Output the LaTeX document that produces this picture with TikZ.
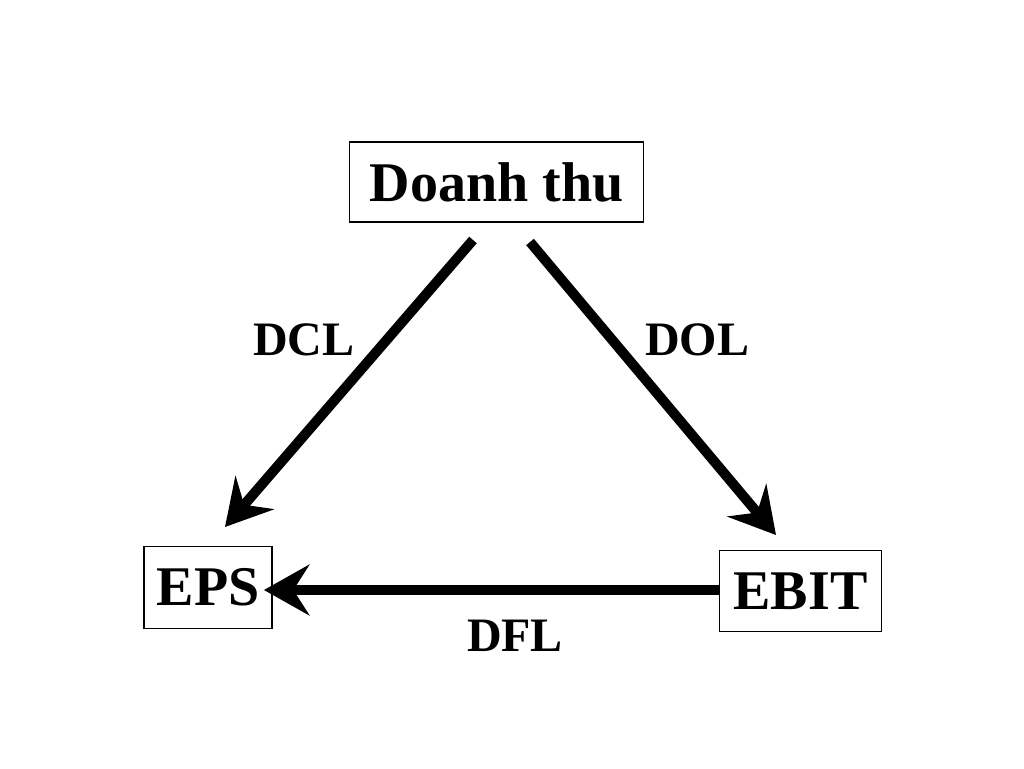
\documentclass[tikz,border=0pt]{standalone}
\usepackage{fontspec}
\setmainfont{Liberation Serif}
\usetikzlibrary{arrows.meta}
\begin{document}
\begin{tikzpicture}[x=0.75pt,y=-0.75pt,
  box/.style={draw,line width=0.9pt,inner sep=0pt,font=\fontsize{42}{46}\selectfont\bfseries},
  lbl/.style={font=\fontsize{36}{40}\selectfont\bfseries},
  arr/.style={line width=7.5pt,-{Stealth[length=34pt,width=38pt,inset=12pt]}}]
\useasboundingbox (0,0) rectangle (1024,768);
\node[box,minimum width=221pt,minimum height=60pt] (d) at (496.5,182) {Doanh thu};
\node[box,minimum width=96pt,minimum height=61pt] (eps) at (208,587.5) {EPS};
\node[box,minimum width=121pt,minimum height=61pt] (ebit) at (800.5,591) {EBIT};
\coordinate (a1) at (473,240); \coordinate (b1) at (225,527);
\coordinate (a2) at (530,242); \coordinate (b2) at (776,535);
\coordinate (a3) at (719,590); \coordinate (b3) at (264,590);
\draw[arr] (a1) -- (b1);
\draw[arr] (a2) -- (b2);
\draw[arr] (a3) -- (b3);
\node[lbl] (l1) at (304,340) {DCL};
\node[lbl] (l2) at (697,340) {DOL};
\node[lbl] (l3) at (515,636) {DFL};
\end{tikzpicture}
\end{document}
